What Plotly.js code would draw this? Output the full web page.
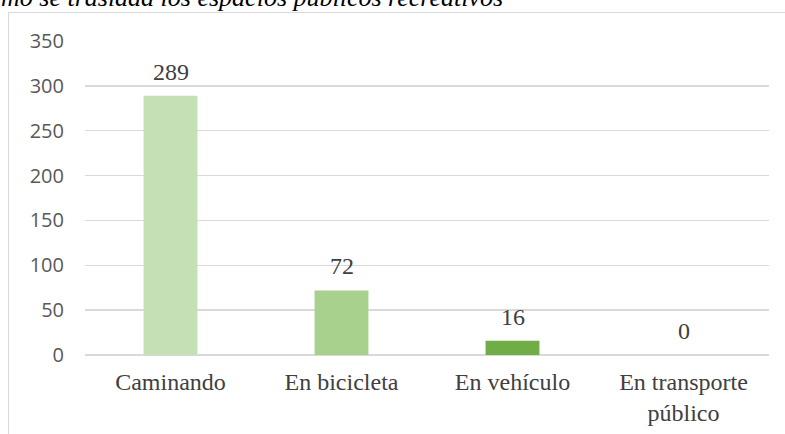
<!DOCTYPE html>
<html>
<head>
<meta charset="utf-8">
<script src="https://cdn.plot.ly/plotly-3.0.1.min.js"></script>
<style>
html,body{margin:0;padding:0;background:#fff;overflow:hidden;}
#chart{width:785px;height:434px;position:absolute;left:0;top:0;}
#frame{position:absolute;left:8px;top:12px;width:800px;height:500px;border:1px solid #D9D9D9;pointer-events:none;}
</style>
</head>
<body>
<div id="chart"></div>
<div id="frame"></div>
<script>
const categories = ["Caminando", "En bicicleta", "En vehículo", "En transporte<br>público"];
const values = [289, 72, 16, 0];
const barColors = ["#C5E0B4", "#A9D18E", "#70AD47", "#548235"];
const yTicks = [0, 50, 100, 150, 200, 250, 300, 350];
const titleText = "mo se traslada los espacios públicos recreativos";

const SERIF = "Liberation Serif";

const trace = {
  type: "bar",
  x: categories,
  y: values,
  marker: {color: barColors},
  width: 0.315,
  hoverinfo: "none"
};

const annotations = categories.map((c, i) => ({
  x: c, y: values[i], xref: "x", yref: "y",
  text: String(values[i]), showarrow: false,
  yanchor: "middle", yshift: 24,
  font: {family: SERIF, size: 24, color: "#404040"}
}));

annotations.push({
  xref: "paper", yref: "paper",
  x: -86/684, y: 1 + 43/314,
  xanchor: "left", yanchor: "middle",
  text: "<i>" + titleText + "</i>", showarrow: false,
  font: {family: SERIF, size: 26, color: "#000000"}
});

const layout = {
  width: 785, height: 434,
  margin: {l: 85, r: 16, t: 41, b: 79, pad: 0},
  paper_bgcolor: "rgba(0,0,0,0)",
  plot_bgcolor: "rgba(0,0,0,0)",
  showlegend: false,
  xaxis: {
    type: "category",
    showgrid: false, showline: false, zeroline: false,
    ticks: "", ticklabelstandoff: 10,
    tickfont: {family: SERIF, size: 24, color: "#404040"}
  },
  yaxis: {
    range: [0, 350],
    tickvals: yTicks,
    ticktext: yTicks.map(String),
    showgrid: true, gridcolor: "#D9D9D9", gridwidth: 1.5,
    zeroline: true, zerolinecolor: "#D9D9D9", zerolinewidth: 1.5,
    showline: false, ticks: "",
    ticklabelstandoff: 20,
    tickfont: {family: "Open Sans", size: 20, color: "#595959"}
  },
  annotations: annotations
};

Plotly.newPlot("chart", [trace], layout, {displayModeBar: false, staticPlot: true});
</script>
</body>
</html>
